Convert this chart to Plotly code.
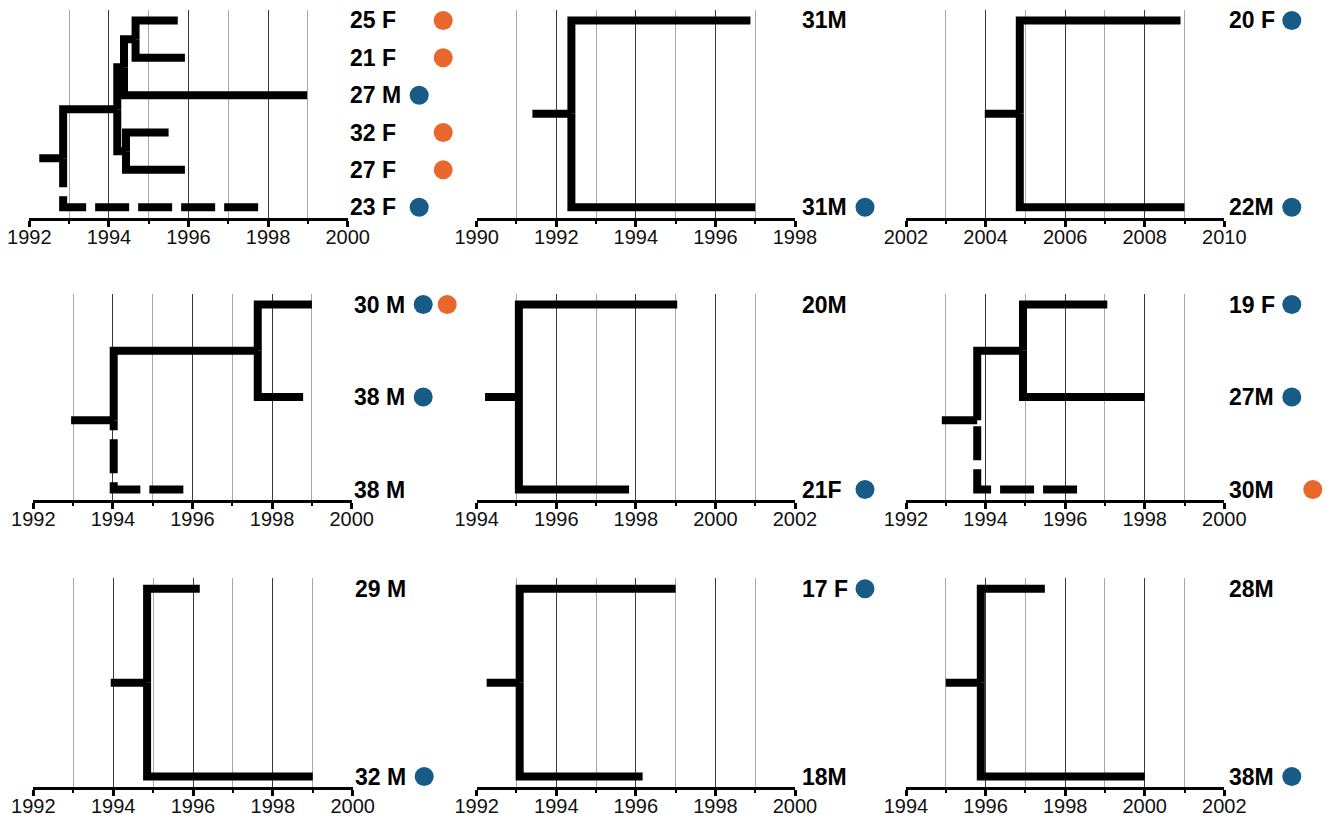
import plotly.graph_objects as go

W, H = 1336, 819

# ---------------- data (years; tips listed top to bottom) ----------------
P1_LABELS = ["25 F", "21 F", "27 M", "32 F", "27 F", "23 F"]
P1_TIP_END = [1995.73, 1995.91, 1998.98, 1995.50, 1995.91, 1997.75]
P1_BLUE = [0, 0, 1, 0, 0, 1]
P1_ORANGE = [1, 1, 0, 1, 1, 0]
P1_TREE = (1992.85, [(1994.21, [(1994.38, [(1994.67, [0, 1]), 2]), (1994.43, [3, 4])]), 5])
P1_DASHED = [5]
P1_ROOT_START = 1992.25
P1_YEARS = [1992, 2000]

P2_LABELS = ["31M", "31M"]
P2_TIP_END = [1996.88, 1997.0]
P2_BLUE = [0, 1]
P2_ORANGE = [0, 0]
P2_TREE = (1992.38, [0, 1])
P2_DASHED = []
P2_ROOT_START = 1991.40
P2_YEARS = [1990, 1998]

P3_LABELS = ["20 F", "22M"]
P3_TIP_END = [2008.90, 2009.0]
P3_BLUE = [1, 1]
P3_ORANGE = [0, 0]
P3_TREE = (2004.86, [0, 1])
P3_DASHED = []
P3_ROOT_START = 2003.98
P3_YEARS = [2002, 2010]

P4_LABELS = ["30 M", "38 M", "38 M"]
P4_TIP_END = [1999.0, 1998.78, 1995.77]
P4_BLUE = [1, 1, 0]
P4_ORANGE = [1, 0, 0]
P4_TREE = (1994.02, [(1997.64, [0, 1]), 2])
P4_DASHED = [2]
P4_ROOT_START = 1992.95
P4_YEARS = [1992, 2000]

P5_LABELS = ["20M", "21F"]
P5_TIP_END = [1999.04, 1997.83]
P5_BLUE = [0, 1]
P5_ORANGE = [0, 0]
P5_TREE = (1995.06, [0, 1])
P5_DASHED = []
P5_ROOT_START = 1994.21
P5_YEARS = [1994, 2002]

P6_LABELS = ["19 F", "27M", "30M"]
P6_TIP_END = [1997.06, 1998.0, 1996.30]
P6_BLUE = [1, 1, 0]
P6_ORANGE = [0, 0, 1]
P6_TREE = (1993.79, [(1994.94, [0, 1]), 2])
P6_DASHED = [2]
P6_ROOT_START = 1992.90
P6_YEARS = [1992, 2000]

P7_LABELS = ["29 M", "32 M"]
P7_TIP_END = [1996.17, 1999.0]
P7_BLUE = [0, 1]
P7_ORANGE = [0, 0]
P7_TREE = (1994.85, [0, 1])
P7_DASHED = []
P7_ROOT_START = 1993.94
P7_YEARS = [1992, 2000]

P8_LABELS = ["17 F", "18M"]
P8_TIP_END = [1997.0, 1996.17]
P8_BLUE = [1, 0]
P8_ORANGE = [0, 0]
P8_TREE = (1993.08, [0, 1])
P8_DASHED = []
P8_ROOT_START = 1992.25
P8_YEARS = [1992, 2000]

P9_LABELS = ["28M", "38M"]
P9_TIP_END = [1997.49, 2000.0]
P9_BLUE = [0, 1]
P9_ORANGE = [0, 0]
P9_TREE = (1995.88, [0, 1])
P9_DASHED = []
P9_ROOT_START = 1995.0
P9_YEARS = [1994, 2002]

PANELS = [
    (P1_LABELS, P1_TIP_END, P1_BLUE, P1_ORANGE, P1_TREE, P1_DASHED, P1_ROOT_START, P1_YEARS),
    (P2_LABELS, P2_TIP_END, P2_BLUE, P2_ORANGE, P2_TREE, P2_DASHED, P2_ROOT_START, P2_YEARS),
    (P3_LABELS, P3_TIP_END, P3_BLUE, P3_ORANGE, P3_TREE, P3_DASHED, P3_ROOT_START, P3_YEARS),
    (P4_LABELS, P4_TIP_END, P4_BLUE, P4_ORANGE, P4_TREE, P4_DASHED, P4_ROOT_START, P4_YEARS),
    (P5_LABELS, P5_TIP_END, P5_BLUE, P5_ORANGE, P5_TREE, P5_DASHED, P5_ROOT_START, P5_YEARS),
    (P6_LABELS, P6_TIP_END, P6_BLUE, P6_ORANGE, P6_TREE, P6_DASHED, P6_ROOT_START, P6_YEARS),
    (P7_LABELS, P7_TIP_END, P7_BLUE, P7_ORANGE, P7_TREE, P7_DASHED, P7_ROOT_START, P7_YEARS),
    (P8_LABELS, P8_TIP_END, P8_BLUE, P8_ORANGE, P8_TREE, P8_DASHED, P8_ROOT_START, P8_YEARS),
    (P9_LABELS, P9_TIP_END, P9_BLUE, P9_ORANGE, P9_TREE, P9_DASHED, P9_ROOT_START, P9_YEARS),
]

# ---------------- layout / style ----------------
BLUE = "#175C86"
ORANGE = "#E8672B"
LINE_W = 8
DASH = "34px,9px"
LABEL_FONT = dict(family="Liberation Sans, Arial, sans-serif", size=23, color="black")
TICK_FONT = dict(family="Liberation Sans, Arial, sans-serif", size=20, color="#111111")
DOT_R = 9.5

# pixel boxes per panel
ROW_Y = [(10, 217.7), (294, 500), (578.3, 787)]
COL_X = [[(29.3, 347.7), (33.3, 351.7), (33.3, 352.7)],
         [(476.7, 795)] * 3,
         [(906, 1224.3)] * 3]
LABEL_SHIFT = [0, 5, 3]          # px right of axis end
DOT_BLUE_OFF = [71.5, 70, 67.5]  # px right of axis end
DOT_ORANGE_OFF = [95.5, 94, 88.5]
PAD = 10.5

fig = go.Figure()
annotations = []
shapes = []

for k, (labels, tip_end, blue, orange, tree, dashed, root_start, years) in enumerate(PANELS):
    row, col = divmod(k, 3)
    xa = "x" if k == 0 else f"x{k+1}"
    ya = "y" if k == 0 else f"y{k+1}"
    x0p, x1p = COL_X[col][row]
    ytop, ybot = ROW_Y[row]
    n = len(labels)
    s = (ybot - ytop - 2 * PAD) / (n - 1)
    yr = [-PAD / s, n - 1 + PAD / s]

    def tip_y(i):
        return n - 1 - i

    solid_x, solid_y = [], []
    dash_paths = []

    def draw(node):
        """returns (y, x_end) of a node or tip and collects its paths."""
        if isinstance(node, int):
            return tip_y(node), tip_end[node]
        nx, children = node
        info = [(c, draw(c)) for c in children]
        ys = [v[0] for _, v in info]
        ny = (ys[0] + ys[-1]) / 2.0
        for c, (cy, cx) in info:
            px = [cx, nx, nx]
            py = [cy, cy, ny]
            if isinstance(c, int) and c in dashed:
                dash_paths.append((px, py))
            else:
                solid_x.extend(px + [None])
                solid_y.extend(py + [None])
        return ny, nx

    ry, rx = draw(tree)
    solid_x.extend([root_start, rx, None])
    solid_y.extend([ry, ry, None])

    fig.add_trace(go.Scatter(x=solid_x, y=solid_y, mode="lines", xaxis=xa, yaxis=ya,
                             line=dict(color="black", width=LINE_W), hoverinfo="skip",
                             showlegend=False, connectgaps=False))
    for px, py in dash_paths:
        fig.add_trace(go.Scatter(x=px, y=py, mode="lines", xaxis=xa, yaxis=ya,
                                 line=dict(color="black", width=LINE_W, dash=DASH),
                                 hoverinfo="skip", showlegend=False))

    # status dots (circles placed right of the labels)
    for i in range(n):
        for flag, off, colr in ((blue[i], DOT_BLUE_OFF[col], BLUE), (orange[i], DOT_ORANGE_OFF[col], ORANGE)):
            if flag:
                shapes.append(dict(type="circle", xref="paper", yref=ya,
                                   xsizemode="pixel", ysizemode="pixel",
                                   xanchor=(x1p + off) / W, yanchor=tip_y(i),
                                   x0=-DOT_R, x1=DOT_R, y0=-DOT_R, y1=DOT_R,
                                   fillcolor=colr, line=dict(width=0), layer="above"))

    for i, lab in enumerate(labels):
        annotations.append(dict(x=years[1], y=tip_y(i), xref=xa, yref=ya, text=f"<b>{lab}</b>",
                                showarrow=False, xanchor="left", yanchor="middle",
                                xshift=LABEL_SHIFT[col], font=LABEL_FONT))

    xkey = "xaxis" if k == 0 else f"xaxis{k+1}"
    ykey = "yaxis" if k == 0 else f"yaxis{k+1}"
    fig.layout[xkey] = dict(
        domain=[x0p / W, x1p / W], range=years, anchor=ya, automargin=False,
        tickmode="linear", tick0=years[0], dtick=2,
        showgrid=True, gridcolor="#3a3a3a", gridwidth=1,
        showline=True, linecolor="black", linewidth=3,
        ticks="outside", ticklen=6, tickwidth=2.5, tickcolor="black",
        tickfont=TICK_FONT, zeroline=False, fixedrange=True, ticklabelstandoff=-7,
        minor=dict(dtick=1, tick0=years[0], showgrid=True, gridcolor="#a8a8a8", gridwidth=1,
                   ticks="outside", ticklen=3, tickwidth=2, tickcolor="black"),
    )
    fig.layout[ykey] = dict(
        domain=[1 - ybot / H, 1 - ytop / H], range=yr, anchor=xa, automargin=False,
        visible=False, showgrid=False, zeroline=False, fixedrange=True,
    )

fig.update_layout(
    width=W, height=H, margin=dict(l=0, r=0, t=0, b=0, pad=0, autoexpand=False),
    paper_bgcolor="white", plot_bgcolor="white",
    annotations=annotations, shapes=shapes, showlegend=False,
)

fig.write_html("out.html", config={"displayModeBar": False},
               post_script="document.body.style.margin='0';")
